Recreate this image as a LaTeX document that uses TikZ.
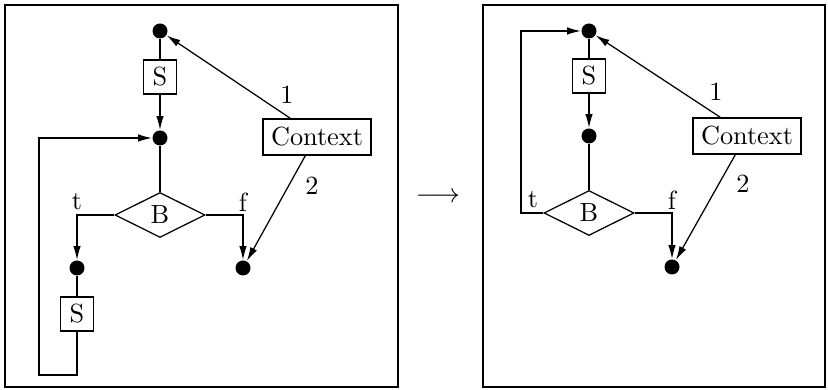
\documentclass[tikz,border=0pt]{standalone}
\usepackage{amsmath,amssymb}
\usepackage{tikz}
\usetikzlibrary{arrows.meta,shapes.geometric}

\begin{document}
\begin{tikzpicture}[
    x=0.4pt, y=-0.4pt, line width=0.5pt,
    every node/.style={font=\fontsize{10.5}{12}\selectfont},
    dot/.style={circle, fill=black, inner sep=0pt, minimum size=6pt},
    stmt/.style={rectangle, draw, inner sep=0pt, minimum width=13pt, minimum height=13.6pt},
    ctx/.style={rectangle, draw, inner xsep=3.2pt, inner ysep=0pt, minimum height=14.4pt},
    cond/.style={diamond, draw, inner sep=0pt, minimum width=36pt, minimum height=18pt},
    arrow/.style={-{Latex[length=5.5pt,width=3pt]}},
    lbl/.style={inner sep=0pt}
]
    \useasboundingbox (0,0) rectangle (828,390);
    % frames
    \draw (5,5) rectangle (398,387);
    \draw (483,5) rectangle (825,387);
    \node[lbl] (maps) at (438,197) {$\longrightarrow$};

    % left panel
    \node[dot] (topA) at (160,31) {};
    \node[stmt] (stmtA) at (160,77) {S};
    \node[dot] (joinA) at (160,138) {};
    \node[cond] (condA) at (160,215) {B};
    \node[dot] (bodyA) at (77,268) {};
    \node[stmt] (stmtA2) at (77,314) {S};
    \node[dot] (endA) at (243,268) {};
    \node[ctx] (ctxA) at (317,137) {Context};
    \coordinate (loopA) at (39,375);

    \draw (topA) -- (stmtA);
    \draw[arrow] (stmtA) -- (joinA);
    \draw (joinA) -- (condA);
    \draw[arrow] (condA.west) -| (bodyA);
    \draw[arrow] (condA.east) -| (endA);
    \draw (bodyA) -- (stmtA2);
    \draw[arrow] (stmtA2) |- (loopA) |- (joinA);
    \draw[arrow] (ctxA.145) -- (topA);
    \draw[arrow] (ctxA.238) -- (endA);

    \node[lbl] at (77,202) {t};
    \node[lbl] at (243,202) {f};
    \node[lbl] at (287,95) {1};
    \node[lbl] at (312,186) {2};

    % right panel
    \node[dot] (topB) at (589,31) {};
    \node[stmt] (stmtB) at (589,76) {S};
    \node[dot] (joinB) at (589,136) {};
    \node[cond] (condB) at (589,213) {B};
    \node[dot] (endB) at (672,267) {};
    \node[ctx] (ctxB) at (747,136) {Context};
    \coordinate (loopB) at (521,213);

    \draw (topB) -- (stmtB);
    \draw[arrow] (stmtB) -- (joinB);
    \draw (joinB) -- (condB);
    \draw[arrow] (condB.west) -- (loopB) |- (topB);
    \draw[arrow] (condB.east) -| (endB);
    \draw[arrow] (ctxB.145) -- (topB);
    \draw[arrow] (ctxB.238) -- (endB);

    \node[lbl] at (533,200) {t};
    \node[lbl] at (672,200) {f};
    \node[lbl] at (716,92) {1};
    \node[lbl] at (743,184) {2};
\end{tikzpicture}
\end{document}
